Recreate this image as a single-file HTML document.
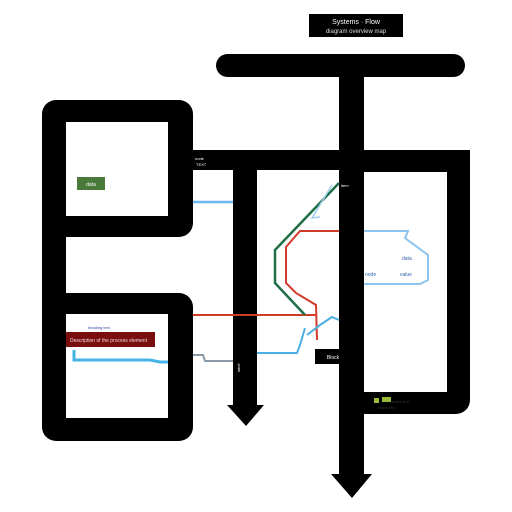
<!DOCTYPE html>
<html><head><style>body{margin:0;background:#fff}svg{display:block}</style></head>
<body>
<svg width="512" height="512" viewBox="0 0 512 512" xmlns="http://www.w3.org/2000/svg" font-family="Liberation Sans, sans-serif">
<rect width="512" height="512" fill="#fff"/>
<!-- top label -->
<rect x="309" y="14" width="94" height="23" fill="#000"/>
<text x="356" y="24" font-size="7" fill="#fff" text-anchor="middle">Systems · Flow</text>
<text x="356" y="33" font-size="6" fill="#ddd" text-anchor="middle">diagram overview map</text>
<!-- top bar -->
<rect x="216" y="54" width="249" height="23" rx="11.5" fill="#000"/>
<!-- central stem -->
<rect x="339" y="66" width="25" height="410" fill="#000"/>
<polygon points="331,474 372,474 352,498" fill="#000"/>
<!-- left top box -->
<rect x="42" y="100" width="151" height="137" rx="14" fill="#000"/>
<rect x="66" y="122" width="102" height="94" fill="#fff"/>
<rect x="42" y="220" width="24" height="90" fill="#000"/>
<!-- left bottom box -->
<rect x="42" y="293" width="151" height="148" rx="14" fill="#000"/>
<rect x="66" y="314" width="102" height="104" fill="#fff"/>
<!-- horizontal bar & right box -->
<rect x="180" y="150" width="290" height="20" fill="#000"/>
<rect x="340" y="150" width="130" height="264" rx="14" fill="#000"/>
<rect x="364" y="172" width="83" height="220" fill="#fff"/>
<!-- left vertical with arrow -->
<rect x="233" y="165" width="24" height="242" fill="#000"/>
<polygon points="227,405 264,405 246,426" fill="#000"/>
<!-- green label -->
<rect x="77" y="177" width="28" height="13" fill="#4a7a3a"/>
<text x="91" y="186" font-size="5" fill="#fff" text-anchor="middle">data</text>
<!-- small text near bar -->
<text x="195" y="160" font-size="4" fill="#fff">node</text>
<text x="196" y="166" font-size="4" fill="#fff">TEXT</text>
<!-- colored lines -->
<line x1="193" y1="202" x2="233" y2="202" stroke="#6bb8ec" stroke-width="2.5"/>
<line x1="193" y1="315" x2="317" y2="315" stroke="#d23a2a" stroke-width="2"/>
<polyline points="193,355 203,355 205,361 233,361" fill="none" stroke="#8a99a8" stroke-width="2"/>
<polyline points="257,353 297,353 300,345 305,328" fill="none" stroke="#4ab0e4" stroke-width="2"/>
<polyline points="339,183 275,250 275,283 305,315" fill="none" stroke="#1f6e45" stroke-width="2.5"/>
<polyline points="339,231 300,231 286,247 286,283 296,293 316,305 317,340" fill="none" stroke="#d23a2a" stroke-width="2"/>
<polyline points="332,185 318,208 312,218 320,217" fill="none" stroke="#9fd0f0" stroke-width="1.5"/>
<polyline points="307,335 320,325 332,317 339,320" fill="none" stroke="#4ab0e4" stroke-width="2"/>
<polyline points="364,231 408,231 405,238 428,255 428,280 420,284 364,284" fill="none" stroke="#8cc4ee" stroke-width="2"/>
<text x="402" y="260" font-size="5" fill="#3366aa">data</text>
<text x="400" y="276" font-size="5" fill="#3366aa">value</text>
<text x="365" y="276" font-size="5" fill="#3366aa">node</text>
<!-- black label -->
<rect x="315" y="349" width="36" height="15" fill="#000"/>
<text x="333" y="359" font-size="5" fill="#fff" text-anchor="middle">Block</text>
<text x="341" y="187" font-size="4" fill="#fff">item</text>
<text x="238" y="370" font-size="4" fill="#fff" transform="rotate(-90 240 370)">label</text>
<!-- green small -->
<rect x="374" y="398" width="5" height="5" fill="#9ab83a"/>
<rect x="382" y="397" width="9" height="5" fill="#9ab83a"/>
<text x="392" y="403" font-size="4" fill="#333">notes text</text>
<text x="378" y="409" font-size="4" fill="#333">more info</text>
<!-- red label in bottom box -->
<rect x="66" y="332" width="89" height="15" fill="#7a0d0d"/>
<text x="70" y="342" font-size="5" fill="#f0dada">Description of the process element</text>
<text x="88" y="329" font-size="4" fill="#3344aa">heading text</text>
<polyline points="74,350 74,360 150,360 160,362 168,362" fill="none" stroke="#44b4e8" stroke-width="3"/>
</svg>
</body></html>
